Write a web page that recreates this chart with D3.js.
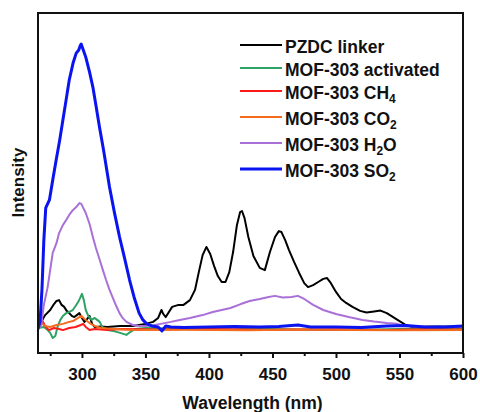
<!DOCTYPE html>
<html>
<head>
<meta charset="utf-8">
<script src="https://cdn.jsdelivr.net/npm/d3@7"></script>
<style>
  body { margin: 0; background: #fff; }
  text { font-family: "Liberation Sans", Arial, sans-serif; font-weight: bold; fill: #111; }
</style>
</head>
<body>
<script>
// Emission spectra, intensity in arbitrary units (SO2 peak = 100)
// each series is [wavelength nm, intensity]
const pzdcLinker = [
  [265,0.7],[268,1.8],[271,4.2],[275,6.0],[278,8.1],[280,9.2],[282,9.5],[284,7.8],[286,7.1],[288,5.7],
  [290,4.9],[292,3.9],[294,3.5],[296,4.2],[298,4.9],[300,3.2],[302,1.8],[304,2.8],[306,3.9],[308,1.1],
  [310,0],[315,0.2],[320,0],[330,0.35],[340,0.35],[350,1.1],[356,1.8],[360,3.2],[362.6,6.0],[364,4.6],
  [366,3.5],[371,7.1],[376,7.8],[380,7.8],[385,9.5],[389,13.1],[392,19.4],[395,25.4],[398,28.3],[401,25.8],
  [404,21.6],[407,18.0],[410,15.9],[413,15.9],[416,19.4],[419,26.5],[422,36],[424.5,40.6],[426,41],[428,38.5],
  [431,31.8],[435,25.1],[440,20.9],[444,20.1],[448,26.5],[452,31.8],[455,33.9],[457,33.6],[460,30.7],[463,27.2],
  [467,23],[471,19.1],[475,15.5],[478,14.1],[482,14.8],[486,15.9],[490,17],[493,17.3],[496,15.5],[500,12.4],
  [504,9.9],[508,8.5],[513,7.1],[519,5.7],[524,5.1],[530,5.5],[535,5.8],[540,4.9],[545,3.5],[550,2.1],
  [555,0.7],[560,0],[580,0.2],[600,0]
];
const mofActivated = [
  [265,-0.35],[270,0],[273,-1.1],[275,-2.1],[277,-3.9],[279,-3.2],[281,0.35],[283,2.5],[285,3.9],[287.6,4.9],
  [290,5.3],[292.8,6.0],[295,7.4],[297,8.8],[298.5,10.2],[300,11.7],[301.5,9.5],[303,6.0],[305,3.9],[307.6,2.5],
  [310,3.2],[312,2.5],[314,1.8],[316,0],[320,-1.1],[325,-1.4],[330,-2.1],[335,-2.8],[338,-1.8],[342,-0.7],
  [350,-0.35],[380,-0.6],[420,-1.0],[430,-0.5],[460,-0.8],[495,-1.1],[520,-1.0],[560,-0.6],[600,-0.5]
];
const mofCH4 = [
  [265,-1.1],[267,1.1],[269,2.1],[271,0.35],[274,-1.1],[278,-0.35],[282,-0.7],[285,-1.1],[290,-0.35],[295,0],
  [299,0.7],[301,1.1],[303,0],[306,-1.1],[310,-0.7],[320,-1.1],[330,-0.7],[360,-0.9],[400,-0.7],[450,-1.0],
  [500,-0.8],[540,-1.1],[570,-0.8],[600,-0.9]
];
const mofCO2 = [
  [265,0],[268,1.4],[271,0.35],[275,0],[280,0.7],[285,1.1],[290,1.8],[293,2.1],[297,3.2],[299.6,3.9],
  [302,2.8],[306,1.4],[310,0.35],[315,-0.35],[325,-0.7],[340,-1.1],[380,-1.0],[430,-1.2],[470,-0.9],[510,-1.1],
  [550,-1.2],[600,-1.1]
];
const mofH2O = [
  [265,-1.1],[268,0.7],[270,7.8],[273,14.1],[277,26.2],[280,29.7],[282,33.2],[285,36],[287.6,37.8],[290,39.6],
  [292.8,41.3],[295.5,42.4],[298,43.8],[299.5,43.5],[301,42.1],[303,40.3],[306,36.4],[308.6,31.8],[311,27.9],[314,23.7],
  [316.5,20.1],[319,16.6],[321.5,13.4],[324,10.6],[327,7.4],[329.6,4.9],[332,3.2],[335,1.8],[340,0.7],[345,0.35],
  [350,0.35],[355,0.5],[362,1.1],[370,1.8],[377,2.5],[385,3.2],[395,4.2],[403,5.3],[410,6.0],[417,6.7],
  [425,8.1],[432,9.2],[440,9.9],[447,10.6],[452,11.0],[458,10.4],[465,10.6],[470,11.0],[475,9.9],[482,7.8],
  [490,6.0],[500,4.6],[510,3.5],[521,2.5],[530,1.9],[540,1.4],[548,1.1],[555,0.35],[565,0],[600,0]
];
const mofSO2 = [
  [265,-1.1],[267,1.8],[268.5,13.1],[270,30.7],[271.5,42.1],[274.4,44.9],[277,52],[279.7,59],[282.5,66.1],[285,73.2],
  [287.5,80.2],[290,87.3],[293,93.3],[295.5,96.8],[297.5,97.9],[298.5,99.3],[299.4,100],[300.5,98.6],[303,95.4],[306,90.1],
  [308.6,84.8],[311,78.4],[313.8,70.7],[317,62.6],[321.7,49.5],[325.5,40.6],[329.6,31.8],[333.5,24.4],[337.5,16.6],[341,10.6],
  [345,4.9],[348,2.5],[351,1.1],[355,0.35],[360,0],[363,-1.4],[366,0.35],[370,0],[380,-0.2],[400,0],
  [420,0.2],[440,0],[455,0.2],[470,0.7],[480,0],[500,0],[520,-0.2],[540,0.35],[555,0.5],[570,0],
  [585,0],[600,0.35]
];

const seriesNames = ["PZDC linker", "MOF-303 activated", "MOF-303 CH4", "MOF-303 CO2", "MOF-303 H2O", "MOF-303 SO2"];
const seriesData = [pzdcLinker, mofActivated, mofCH4, mofCO2, mofH2O, mofSO2];
const seriesColors = ["#000000", "#2ea363", "#ff1a1a", "#f56b1d", "#a970d8", "#0a14f0"];
const seriesWidths = [2, 2, 2, 2, 2, 3];
// label parts: [main text, subscript]
const legendLabels = [["PZDC linker", ""], ["MOF-303 activated", ""], ["MOF-303 CH", "4"], ["MOF-303 CO", "2"], ["MOF-303 H", "2O"], ["MOF-303 SO", "2"]];
const xTicks = [300, 350, 400, 450, 500, 550, 600];
const xMinorTicks = [275, 325, 375, 425, 475, 525, 575];

const width = 480, height = 412;
const margin = { left: 38, right: 17, top: 13, bottom: 59 };

const svg = d3.select("body").append("svg")
    .attr("width", width)
    .attr("height", height);

const x = d3.scaleLinear().domain([265.4, 600]).range([margin.left, width - margin.right]);
const y = d3.scaleLinear().domain([-9.2, 111]).range([height - margin.bottom, margin.top]);

const plotBottom = height - margin.bottom;

// Clip curves to the plot box
svg.append("clipPath").attr("id", "plot-clip")
  .append("rect")
    .attr("x", margin.left)
    .attr("y", margin.top)
    .attr("width", width - margin.left - margin.right)
    .attr("height", plotBottom - margin.top);

const line = d3.line()
    .x(d => x(d[0]))
    .y(d => y(d[1]));

const curves = svg.append("g").attr("clip-path", "url(#plot-clip)");
seriesData.forEach((data, i) => {
  curves.append("path")
      .datum(data)
      .attr("d", line)
      .attr("fill", "none")
      .attr("stroke", seriesColors[i])
      .attr("stroke-width", seriesWidths[i])
      .attr("stroke-linejoin", "round");
});

// Bottom axis: major ticks with labels, minor ticks shorter
const xAxis = svg.append("g")
    .attr("transform", `translate(0,${plotBottom})`)
    .call(d3.axisBottom(x).tickValues(xTicks).tickSize(5).tickPadding(10).tickFormat(d3.format("d")));
xAxis.select(".domain").remove();
xAxis.selectAll(".tick line").attr("stroke", "#111").attr("stroke-width", 2);
xAxis.selectAll(".tick text").attr("font-size", 17).style("font-weight", "bold").attr("fill", "#111");

const xMinor = svg.append("g")
    .attr("transform", `translate(0,${plotBottom})`)
    .call(d3.axisBottom(x).tickValues(xMinorTicks).tickSize(3).tickFormat(""));
xMinor.select(".domain").remove();
xMinor.selectAll(".tick line").attr("stroke", "#111").attr("stroke-width", 2);

// Frame
svg.append("rect")
    .attr("x", margin.left)
    .attr("y", margin.top)
    .attr("width", width - margin.left - margin.right)
    .attr("height", plotBottom - margin.top)
    .attr("fill", "none")
    .attr("stroke", "#111")
    .attr("stroke-width", 2);

// Axis titles
svg.append("text")
    .attr("x", 252.5)
    .attr("y", 409)
    .attr("text-anchor", "middle")
    .attr("font-size", 17.5)
    .text("Wavelength (nm)");

svg.append("text")
    .attr("transform", "translate(24,182.5) rotate(-90)")
    .attr("text-anchor", "middle")
    .attr("font-size", 17)
    .text("Intensity");

// Legend
const legendY = i => 45 + 23 * Math.min(i, 2) + 26 * Math.max(i - 2, 0);
legendLabels.forEach((parts, i) => {
  const ly = legendY(i);
  svg.append("line")
      .attr("x1", 240).attr("x2", 282)
      .attr("y1", ly).attr("y2", ly)
      .attr("stroke", seriesColors[i])
      .attr("stroke-width", seriesWidths[i]);
  const t = svg.append("text")
      .attr("x", 285)
      .attr("y", ly + 7.5)
      .attr("font-size", 17.5);
  t.append("tspan").text(parts[0]);
  if (parts[1]) {
    const sub = parts[1];
    // H2O: only the "2" is subscript
    t.append("tspan").attr("font-size", 12).attr("dy", 4).text(sub[0]);
    if (sub.length > 1) t.append("tspan").attr("dy", -4).text(sub.slice(1));
  }
});
</script>
</body>
</html>
